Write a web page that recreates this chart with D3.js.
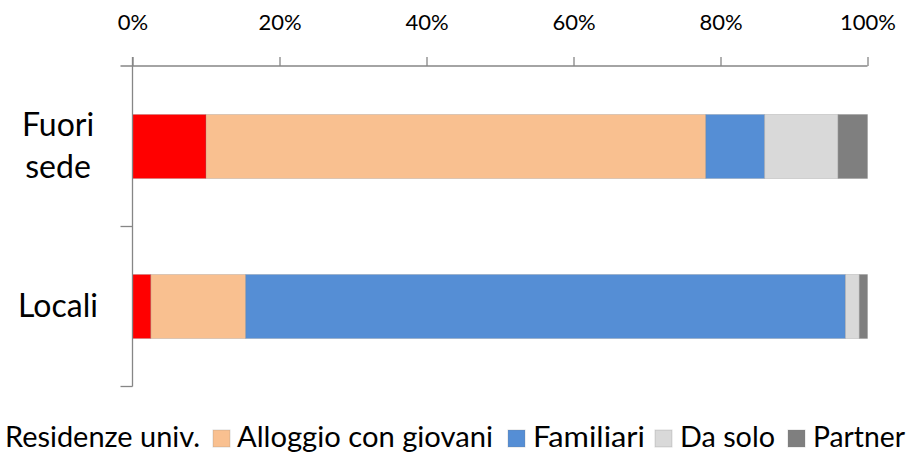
<!DOCTYPE html>
<html>
<head>
<meta charset="utf-8">
<script src="https://cdn.jsdelivr.net/npm/d3@7"></script>
<style>
  html, body { margin: 0; padding: 0; background: #fff; }
  svg { display: block; }
  text { font-family: Lato, "Open Sans", sans-serif; fill: #000; }
</style>
</head>
<body>
<svg id="chart" width="912" height="452"></svg>
<script>
// Living arrangement of students, as % of each group
const categories = ["Fuori sede", "Locali"];
const categoryLines = [["Fuori", "sede"], ["Locali"]];
const seriesNames = ["Residenze univ.", "Alloggio con giovani", "Familiari", "Da solo", "Partner"];
const seriesColors = ["#FF0000", "#F9C090", "#558ED5", "#D9D9D9", "#7F7F7F"];
const residenze = [10, 2.5];
const alloggio = [68, 12.9];
const familiari = [8, 81.6];
const daSolo = [10, 1.9];
const partner = [4, 1.1];
const tickValues = [0, 20, 40, 60, 80, 100];

const seriesValues = [residenze, alloggio, familiari, daSolo, partner];
const rows = categories.map((c, i) => {
  const r = { category: c };
  seriesNames.forEach((s, k) => { r[s] = seriesValues[k][i]; });
  return r;
});
const stacked = d3.stack().keys(seriesNames)(rows);

const svg = d3.select("#chart");
const axisColor = "#868686";

const x = d3.scaleLinear().domain([0, 100]).range([132.5, 867.5]);
const y = d3.scaleBand().domain(categories).range([66, 386])
  .paddingInner(0.6).paddingOuter(0.3);

// Bars
svg.append("g").selectAll("g").data(stacked).join("g")
  .attr("fill", (d, i) => seriesColors[i])
  .selectAll("rect").data(d => d).join("rect")
  .attr("x", d => x(d[0]))
  .attr("y", d => y(d.data.category) + 0.5)
  .attr("width", d => x(d[1]) - x(d[0]))
  .attr("height", y.bandwidth())
  .attr("stroke", "rgba(120,120,120,0.25)")
  .attr("stroke-width", 1);

// Top value axis
const xAxis = d3.axisTop(x)
  .tickValues(tickValues)
  .tickSize(9)
  .tickPadding(27)
  .tickFormat(d => d + "%");
const gx = svg.append("g").attr("transform", "translate(0,66)").call(xAxis);
gx.select(".domain").remove();
gx.selectAll(".tick line").attr("stroke", axisColor).attr("stroke-width", 1.3);
gx.selectAll(".tick text").attr("font-size", 22).attr("font-family", "Lato").attr("fill", "#000");
svg.append("line")
  .attr("x1", x(0) - 12).attr("x2", x(100))
  .attr("y1", 66).attr("y2", 66)
  .attr("stroke", axisColor).attr("stroke-width", 1.3);

// Left category axis with ticks on band boundaries
const [y0, y1] = y.range();
svg.append("line")
  .attr("x1", x(0)).attr("x2", x(0))
  .attr("y1", 57).attr("y2", y1 + 0.5)
  .attr("stroke", axisColor).attr("stroke-width", 1.3);
const bounds = categories.map(c => y(c) - y.step() * y.paddingOuter() + y.step());
svg.append("g").selectAll("line").data(bounds).join("line")
  .attr("x1", x(0) - 12).attr("x2", x(0))
  .attr("y1", d => d + 0.5).attr("y2", d => d + 0.5)
  .attr("stroke", axisColor).attr("stroke-width", 1.3);

// Category labels
const labelX = 58;
categories.forEach((c, i) => {
  const lines = categoryLines[i];
  const mid = y(c) + y.bandwidth() / 2;
  const lh = 42;
  const first = mid + 11 - (lines.length - 1) * lh / 2;
  const t = svg.append("text")
    .attr("text-anchor", "middle")
    .attr("font-size", 32);
  lines.forEach((ln, j) => {
    t.append("tspan").attr("x", labelX).attr("y", first + j * lh).text(ln);
  });
});

// Legend
const legendItems = [
  { sx: -24, tx: 5, tw: 195 },
  { sx: 213, tx: 237, tw: 256 },
  { sx: 508, tx: 533, tw: 112 },
  { sx: 655, tx: 680, tw: 95 },
  { sx: 788, tx: 813, tw: 92 }
];
const lg = svg.append("g");
seriesNames.forEach((s, i) => {
  const it = legendItems[i];
  lg.append("rect")
    .attr("x", it.sx).attr("y", 430)
    .attr("width", 17).attr("height", 17)
    .attr("fill", seriesColors[i])
    .attr("stroke", "rgba(120,120,120,0.25)");
  lg.append("text")
    .attr("x", it.tx).attr("y", 446.5)
    .attr("font-size", 28)
    .attr("textLength", it.tw)
    .attr("lengthAdjust", "spacingAndGlyphs")
    .text(s);
});
</script>
</body>
</html>
